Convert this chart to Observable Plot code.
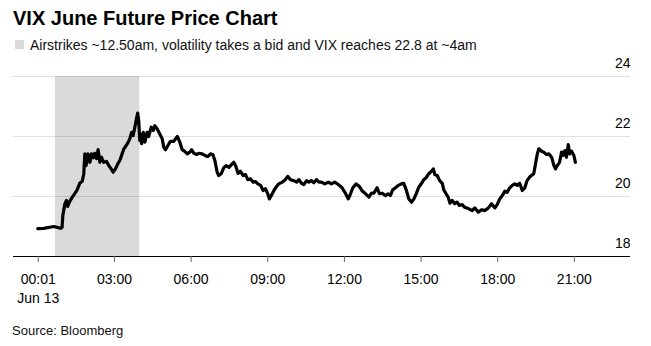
<!DOCTYPE html>
<html>
<head>
<meta charset="utf-8">
<script src="https://cdn.jsdelivr.net/npm/d3@7"></script>
<script src="https://cdn.jsdelivr.net/npm/@observablehq/plot@0.6"></script>
<style>
  html, body { margin: 0; padding: 0; background: #fff; }
  body { width: 651px; height: 346px; position: relative; overflow: hidden; font-family: "Liberation Sans", Arial, sans-serif; color: #000; }
  .abs { position: absolute; white-space: nowrap; }
</style>
</head>
<body>
<div class="abs" id="title" style="left:13px;top:8px;font:bold 20px/20px 'Liberation Sans',Arial,sans-serif;">VIX June Future Price Chart</div>
<div class="abs" style="left:15px;top:40px;width:9px;height:9px;background:#d9d9d9"></div>
<div class="abs" id="sub" style="left:30px;top:37.5px;font:14px/14px 'Liberation Sans',Arial,sans-serif;color:#111;">Airstrikes ~12.50am, volatility takes a bid and VIX reaches 22.8 at ~4am</div>
<div class="abs" id="chart" style="left:0;top:55px"></div>
<div class="abs" id="src" style="left:12px;top:324px;font:13px/13px 'Liberation Sans',Arial,sans-serif;color:#111;">Source: Bloomberg</div>
<script>
// Hours after midnight, Jun 13
const hours = [0, 0.23, 0.63, 0.89, 0.95, 0.98, 1.06, 1.12, 1.17, 1.25, 1.35, 1.44, 1.54, 1.64, 1.74, 1.80, 1.84, 1.89, 1.96, 2.04, 2.10, 2.17, 2.23, 2.30, 2.36, 2.43, 2.49, 2.58, 2.69, 2.78, 2.87, 2.95, 3.04, 3.13, 3.21, 3.30, 3.37, 3.46, 3.52, 3.60, 3.67, 3.73, 3.80, 3.86, 3.91, 3.95, 3.99, 4.02, 4.06, 4.13, 4.19, 4.28, 4.34, 4.44, 4.52, 4.58, 4.67, 4.77, 4.87, 4.93, 5.00, 5.09,
  5.19, 5.32, 5.46, 5.56, 5.65, 5.74, 5.85, 5.95, 6.02, 6.11, 6.21, 6.30, 6.43, 6.56, 6.65, 6.76, 6.85, 6.93, 7.02, 7.08, 7.18, 7.28, 7.37, 7.48, 7.58, 7.67, 7.74, 7.84, 7.93, 8.04, 8.13, 8.22, 8.32, 8.43, 8.52, 8.61, 8.72, 8.82, 8.91, 9.00, 9.06, 9.14, 9.24, 9.34, 9.43, 9.57, 9.69, 9.78, 9.89, 10.02, 10.13, 10.22, 10.32, 10.41, 10.52, 10.61, 10.70, 10.80, 10.91, 11.00,
  11.10, 11.23, 11.37, 11.49, 11.62, 11.76, 11.89, 12.02, 12.15, 12.24, 12.33, 12.46, 12.59, 12.70, 12.83, 12.96, 13.06, 13.15, 13.28, 13.37, 13.48, 13.61, 13.71, 13.80, 13.89, 14.00, 14.11, 14.23, 14.32, 14.42, 14.52, 14.63, 14.72, 14.81, 14.91, 15.02, 15.11, 15.21, 15.30, 15.41, 15.48, 15.54, 15.63, 15.73, 15.83, 15.89, 15.98, 16.06, 16.13, 16.22, 16.32, 16.41, 16.50, 16.61, 16.71,
  16.87, 17.00, 17.10, 17.24, 17.37, 17.50, 17.63, 17.76, 17.89, 17.98, 18.08, 18.18, 18.28, 18.37, 18.47, 18.57, 18.67, 18.76, 18.86, 18.96, 19.06, 19.15, 19.24, 19.32, 19.41, 19.48, 19.55, 19.61, 19.72, 19.80, 19.91, 20.00, 20.11, 20.20, 20.26, 20.33, 20.42, 20.50, 20.56, 20.63, 20.69, 20.76, 20.82, 20.89, 20.98, 21.04];
const prices = [18.93, 18.94, 19.00, 18.94, 18.97, 19.37, 19.76, 19.87, 19.67, 19.84, 19.98, 20.09, 20.22, 20.44, 20.51, 20.76, 21.42, 21.03, 21.42, 21.14, 21.42, 21.29, 21.44, 21.26, 21.56, 21.14, 21.31, 21.14, 21.17, 21.03, 20.92, 20.81, 20.92, 21.09, 21.20, 21.42, 21.59, 21.70, 21.78, 21.92, 22.14, 22.03, 22.31, 22.59, 22.78, 22.53, 21.87, 22.09, 21.76, 22.14, 21.81, 22.14, 22.00, 22.31, 22.20, 22.36, 22.26, 22.09, 21.92, 21.64, 21.56, 21.70,
  21.84, 21.84, 22.00, 21.81, 21.56, 21.51, 21.42, 21.48, 21.56, 21.44, 21.40, 21.44, 21.42, 21.36, 21.33, 21.42, 21.40, 21.20, 20.81, 20.70, 20.76, 20.96, 21.03, 20.97, 21.06, 21.14, 21.03, 20.77, 20.84, 20.70, 20.73, 20.56, 20.59, 20.48, 20.50, 20.42, 20.37, 20.20, 20.26, 20.09, 19.92, 20.03, 20.20, 20.33, 20.42, 20.48, 20.56, 20.67, 20.56, 20.53, 20.48, 20.56, 20.44, 20.40, 20.53, 20.48, 20.53, 20.46, 20.56, 20.48,
  20.48, 20.42, 20.48, 20.42, 20.48, 20.40, 20.31, 20.14, 19.92, 20.09, 20.29, 20.42, 20.33, 20.18, 20.09, 19.98, 20.11, 20.11, 20.29, 20.09, 20.11, 20.03, 20.09, 20.03, 20.22, 20.29, 20.37, 20.42, 20.44, 20.22, 19.92, 19.81, 19.92, 20.09, 20.31, 20.44, 20.56, 20.64, 20.76, 20.84, 20.92, 20.73, 20.70, 20.53, 20.44, 20.22, 20.09, 19.98, 19.78, 19.87, 19.76, 19.81, 19.70, 19.73, 19.64,
  19.59, 19.53, 19.62, 19.48, 19.56, 19.53, 19.62, 19.76, 19.62, 19.73, 19.92, 20.03, 20.18, 20.14, 20.29, 20.37, 20.42, 20.37, 20.44, 20.20, 20.29, 20.53, 20.64, 20.70, 20.76, 21.09, 21.42, 21.59, 21.51, 21.48, 21.40, 21.42, 21.31, 21.03, 20.92, 21.03, 21.14, 21.48, 21.37, 21.53, 21.31, 21.73, 21.42, 21.51, 21.37, 21.14];

const shadeHours = [0.69, 3.99];
const xDomainHours = [-0.951, 23.197];
const yTicks = [18, 20, 22, 24];
const xTickHours = [1 / 60, 3, 6, 9, 12, 15, 18, 21];
const xTickLabels = ["00:01\nJun 13", "03:00", "06:00", "09:00", "12:00", "15:00", "18:00", "21:00"];

const base = Date.UTC(2025, 5, 13, 0, 0);
const toDate = h => new Date(base + Math.round(h * 3600e3));

const data = hours.map((h, i) => ({t: toDate(h), v: prices[i]}));
const tickDates = xTickHours.map(toDate);
const labelMap = new Map(tickDates.map((d, i) => [+d, xTickLabels[i]]));
const shade = [{x1: toDate(shadeHours[0]), x2: toDate(shadeHours[1])}];

const chart = Plot.plot({
  width: 651,
  height: 255,
  marginLeft: 13,
  marginRight: 21,
  marginTop: 21,
  marginBottom: 54,
  x: {type: "utc", domain: xDomainHours.map(toDate), label: null},
  y: {domain: [18, 24], label: null},
  style: {fontFamily: "'Liberation Sans', Arial, sans-serif", fontSize: "14px", color: "#000", background: "transparent", overflow: "visible"},
  marks: [
    Plot.rect(shade, {x1: "x1", x2: "x2", y1: 18, y2: 24, fill: "#dadada"}),
    Plot.gridY(yTicks, {stroke: "#000", strokeOpacity: 0.12, strokeWidth: 1}),
    Plot.axisY(yTicks, {anchor: "right", label: null, tickSize: 0, tickPadding: 0, textAnchor: "end", dy: -12.5, tickFormat: d => String(d), fontSize: 14, fill: "#000"}),
    Plot.ruleY([18], {stroke: "#000", strokeWidth: 1}),
    Plot.axisX(tickDates, {anchor: "bottom", label: null, tickSize: 6, tickPadding: 9, tickFormat: d => labelMap.get(+d), fontSize: 14, lineHeight: 1.3, stroke: "#666", fill: "#000"}),
    Plot.line(data, {x: "t", y: "v", stroke: "#000", strokeWidth: 3.2, strokeLinejoin: "round", strokeLinecap: "round"})
  ]
});
document.getElementById("chart").appendChild(chart);
</script>
</body>
</html>
